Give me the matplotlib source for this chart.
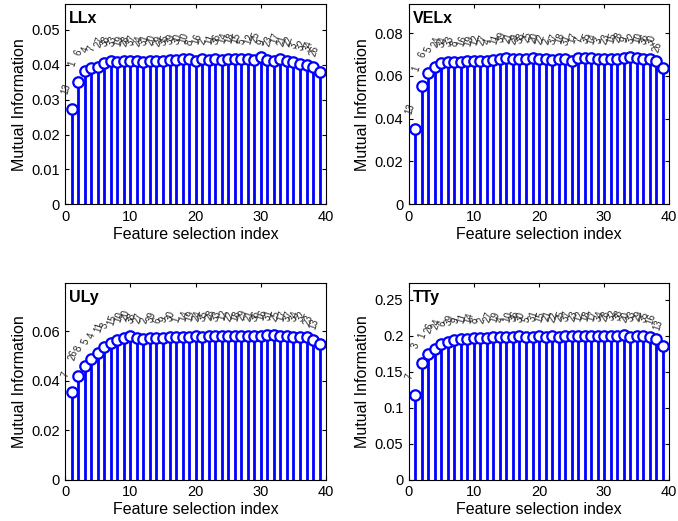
import numpy as np
import matplotlib
matplotlib.use('Agg')
import matplotlib.pyplot as plt

plt.rcParams['font.family'] = ['Liberation Sans', 'DejaVu Sans']

idx = np.arange(1, 40)

llx_vals = [0.0272, 0.0352, 0.0382, 0.0391, 0.0394, 0.0405, 0.0410, 0.0408, 0.0410, 0.0410,
            0.0411, 0.0409, 0.0411, 0.0412, 0.0410, 0.0413, 0.0414, 0.0416, 0.0418, 0.0412,
            0.0416, 0.0415, 0.0416, 0.0415, 0.0417, 0.0418, 0.0418, 0.0416, 0.0415, 0.0422,
            0.0413, 0.0410, 0.0418, 0.0410, 0.0408, 0.0403, 0.0398, 0.0394, 0.0380]
llx_labels = [13, 1, 6, 4, 7, 27, 38, 33, 19, 28, 37, 24, 31, 20, 29, 35, 39, 30, 10, 8,
              16, 2, 11, 36, 14, 18, 15, 5, 12, 25, 9, 23, 17, 21, 22, 3, 32, 34, 26]

velx_vals = [0.0350, 0.0552, 0.0615, 0.0640, 0.0662, 0.0663, 0.0665, 0.0665, 0.0668, 0.0668,
             0.0670, 0.0672, 0.0675, 0.0678, 0.0685, 0.0680, 0.0678, 0.0680, 0.0685, 0.0680,
             0.0678, 0.0675, 0.0678, 0.0680, 0.0670, 0.0683, 0.0685, 0.0682, 0.0678, 0.0680,
             0.0678, 0.0680, 0.0685, 0.0688, 0.0682, 0.0680, 0.0678, 0.0672, 0.0638]
velx_labels = [13, 1, 6, 5, 24, 34, 33, 8, 16, 19, 12, 27, 4, 11, 39, 21, 29, 38, 25, 20,
               22, 2, 37, 18, 31, 17, 7, 35, 14, 3, 23, 15, 28, 9, 32, 10, 36, 30, 26]

uly_vals = [0.0355, 0.0420, 0.0460, 0.0488, 0.0512, 0.0535, 0.0552, 0.0565, 0.0575, 0.0582,
            0.0572, 0.0570, 0.0572, 0.0575, 0.0573, 0.0576, 0.0578, 0.0576, 0.0578, 0.0580,
            0.0578, 0.0581, 0.0582, 0.0580, 0.0582, 0.0581, 0.0580, 0.0582, 0.0580, 0.0581,
            0.0585, 0.0584, 0.0580, 0.0580, 0.0579, 0.0578, 0.0578, 0.0563, 0.0548]
uly_labels = [7, 26, 8, 5, 4, 11, 3, 15, 10, 20, 38, 27, 2, 39, 6, 9, 30, 1, 14, 19,
              24, 35, 28, 33, 12, 22, 18, 29, 21, 36, 16, 31, 25, 17, 37, 34, 32, 23, 13]

tty_vals = [0.118, 0.162, 0.175, 0.182, 0.188, 0.192, 0.194, 0.196, 0.196, 0.197,
            0.197, 0.197, 0.198, 0.198, 0.198, 0.198, 0.199, 0.198, 0.198, 0.199,
            0.198, 0.199, 0.198, 0.199, 0.199, 0.199, 0.199, 0.199, 0.199, 0.199,
            0.199, 0.200, 0.201, 0.198, 0.199, 0.199, 0.198, 0.195, 0.186]
tty_labels = [7, 3, 1, 26, 24, 6, 39, 9, 11, 14, 8, 2, 27, 19, 4, 10, 36, 30, 5, 31,
              15, 21, 22, 25, 37, 23, 12, 18, 17, 34, 28, 32, 38, 20, 33, 29, 35, 16, 13]

panels = [
    ('LLx', llx_vals, llx_labels, np.arange(0, 0.051, 0.01), ['0', '0.01', '0.02', '0.03', '0.04', '0.05']),
    ('VELx', velx_vals, velx_labels, np.arange(0, 0.081, 0.02), ['0', '0.02', '0.04', '0.06', '0.08']),
    ('ULy', uly_vals, uly_labels, np.arange(0, 0.061, 0.02), ['0', '0.02', '0.04', '0.06']),
    ('TTy', tty_vals, tty_labels, np.arange(0, 0.251, 0.05), ['0', '0.05', '0.1', '0.15', '0.2', '0.25']),
]

positions = [
    [0.096, 0.608, 0.385, 0.384],
    [0.603, 0.608, 0.384, 0.384],
    [0.096, 0.079, 0.385, 0.378],
    [0.603, 0.079, 0.384, 0.378],
]

fig = plt.figure(figsize=(6.78, 5.21), dpi=100)

for (name, vals, labels, yt, ytl), pos in zip(panels, positions):
    ax = fig.add_axes(pos)
    vals = np.array(vals)
    ax.vlines(idx, 0, vals, color='blue', lw=2)
    ax.plot(idx, vals, 'o', mfc='white', mec='blue', mew=1.6, ms=7.5)
    top = vals.max() * 1.36
    ax.set_xlim(0, 40)
    ax.set_ylim(0, top)
    ax.set_xticks([0, 10, 20, 30, 40])
    ax.set_yticks(yt)
    ax.set_yticklabels(ytl)
    ax.tick_params(direction='in', top=True, right=True, labelsize=10.5, length=3, pad=4)
    ax.set_xlabel('Feature selection index', fontsize=11.5, labelpad=2)
    ax.set_ylabel('Mutual Information', fontsize=11.5, labelpad=3)
    ax.text(0.015, 0.965, name, transform=ax.transAxes, fontsize=11.5, fontweight='bold',
            va='top', ha='left')
    for x, v, lab in zip(idx, vals, labels):
        ax.text(x - 0.3, v + top * 0.07, str(lab), rotation=72, fontsize=7,
                ha='left', va='bottom', rotation_mode='anchor', color='0.15')

fig.savefig('out.png', dpi=100)
